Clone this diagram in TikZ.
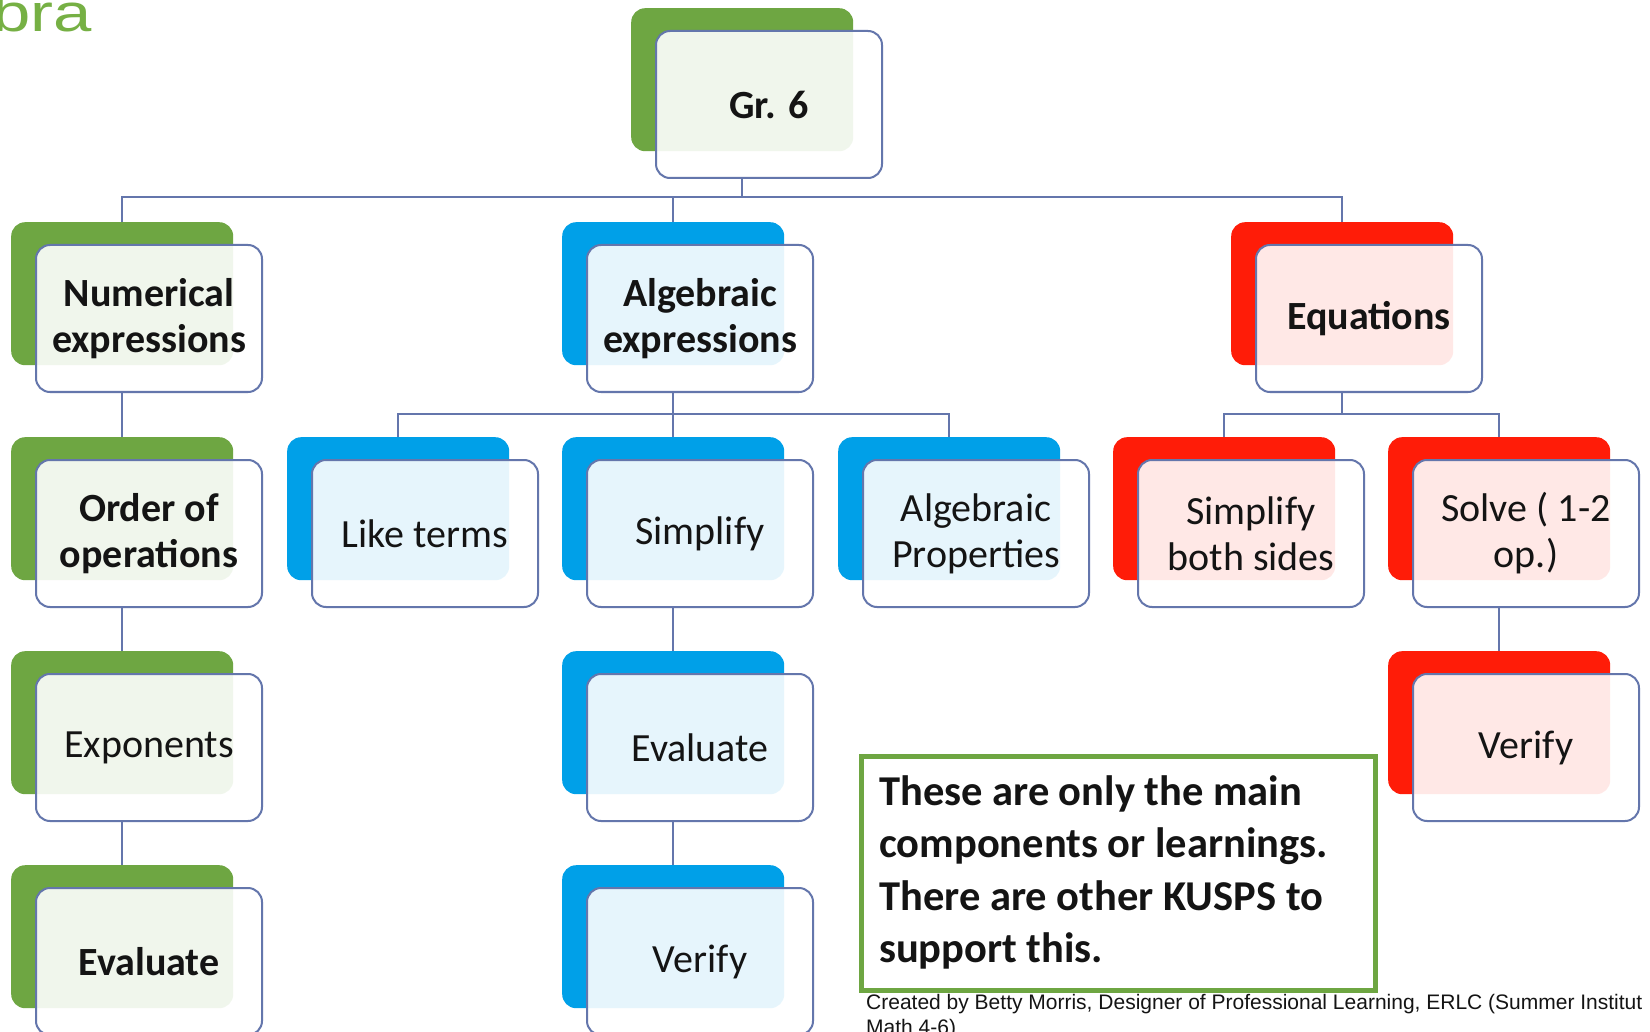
\documentclass[tikz,border=0pt]{standalone}
\usepackage{graphicx}
\usepackage{fontspec}
\setmainfont{Carlito}
\newfontfamily\arialfont{Liberation Sans}
\definecolor{grn}{RGB}{110,166,66}
\definecolor{blu}{RGB}{0,160,232}
\definecolor{redc}{RGB}{255,28,8}
\definecolor{lnc}{RGB}{100,118,172}
\definecolor{ttl}{RGB}{118,176,68}
\definecolor{txt}{RGB}{20,20,20}
\newcommand\bxfont{\fontsize{40}{46}\selectfont\bfseries}
\newcommand\rxfont{\fontsize{40}{46}\selectfont}
\newcommand\notefont{\fontsize{42.5}{52.6}\selectfont\bfseries}
\newcommand\footfont{\arialfont\fontsize{21}{25}\selectfont}
\newcommand\titlefont{\arialfont\fontsize{53}{60}\selectfont}
\tikzset{
  backbox/.style={rounded corners=14pt, minimum width=222pt, minimum height=143pt,
    anchor=north west, inner sep=0pt},
  frontbox/.style={draw=lnc, line width=2pt, rounded corners=14pt, fill=white,
    fill opacity=0.9, text opacity=1, minimum width=226pt, minimum height=147pt,
    anchor=north west, inner sep=0pt, align=center, text=txt},
  conn/.style={draw=lnc, line width=2pt},
}
\newcommand\twobox[6]{%
  \node[backbox, fill=#4] (#1b) at ({#2-24},{#3-22}) {};
  \node[frontbox, font=#5] (#1) at (#2,#3) {#6};}
\begin{document}
\begin{tikzpicture}[x=1pt,y=-1pt]
\useasboundingbox (0,0) rectangle (1650,1032);
\clip (0,0) rectangle (1650,1032);
\fill[white] (0,0) rectangle (1650,1032);

\node[anchor=base west, inner sep=0pt, text=ttl, font=\titlefont] (title) at (-8,32) {\scalebox{1.3}[1]{bra}};

% boxes
\twobox{gr}{655}{30}{grn}{\bxfont}{Gr. 6}
\twobox{num}{35}{244}{grn}{\bxfont}{Numerical\\expressions}
\twobox{alg}{586}{244}{blu}{\bxfont}{Algebraic\\expressions}
\twobox{eq}{1255}{244}{redc}{\bxfont}{Equations}
\twobox{ord}{35}{459}{grn}{\bxfont}{Order of\\operations}
\twobox{like}{311}{459}{blu}{\rxfont}{Like terms}
\twobox{simp}{586}{459}{blu}{\rxfont}{Simplify}
\twobox{prop}{862}{459}{blu}{\rxfont}{Algebraic\\Properties}
\twobox{both}{1137}{459}{redc}{\rxfont}{Simplify\\both sides}
\twobox{solve}{1412}{459}{redc}{\rxfont}{Solve ( 1-2\\op.)}
\twobox{expo}{35}{673}{grn}{\rxfont}{Exponents}
\twobox{evalb}{586}{673}{blu}{\rxfont}{Evaluate}
\twobox{verr}{1412}{673}{redc}{\rxfont}{Verify}
\twobox{evala}{35}{887}{grn}{\bxfont}{Evaluate}
\twobox{verb}{586}{887}{blu}{\rxfont}{Verify}

% buses
\coordinate (bus1) at (0,197);
\coordinate (bus2) at (0,414);

% connectors
\draw[conn] (grb.south |- gr.south) -- (grb.south |- bus1);
\draw[conn] (numb.north) -- (numb.north |- bus1) -- (eqb.north |- bus1) -- (eqb.north);
\draw[conn] (algb.north) -- (algb.north |- bus1);

\draw[conn] (algb.south |- alg.south) -- (algb.south |- bus2);
\draw[conn] (likeb.north) -- (likeb.north |- bus2) -- (propb.north |- bus2) -- (propb.north);
\draw[conn] (simpb.north) -- (simpb.north |- bus2);

\draw[conn] (eqb.south |- eq.south) -- (eqb.south |- bus2);
\draw[conn] (bothb.north) -- (bothb.north |- bus2) -- (solveb.north |- bus2) -- (solveb.north);

\draw[conn] (numb.south |- num.south) -- (ordb.north);
\draw[conn] (ordb.south |- ord.south) -- (expob.north);
\draw[conn] (expob.south |- expo.south) -- (evalab.north);
\draw[conn] (simpb.south |- simp.south) -- (evalbb.north);
\draw[conn] (evalbb.south |- evalb.south) -- (verbb.north);
\draw[conn] (solveb.south |- solve.south) -- (verrb.north);

% note
\node[draw=grn, line width=5pt, fill=white, anchor=north west, inner sep=0pt,
  minimum width=514pt, minimum height=234pt] (note) at (859,754) {};
\node[anchor=north west, align=left, inner sep=0pt, font=\notefont, text=txt] (notetext) at (879,775)
  {These are only the main\\components or learnings.\\There are other KUSPS to\\support this.};

% footer
\node[anchor=north west, align=left, inner sep=0pt, font=\footfont, text=txt] (credit) at (866,994)
  {Created by Betty Morris, Designer of Professional Learning, ERLC (Summer Institut\\Math 4-6)};
\end{tikzpicture}
\end{document}
